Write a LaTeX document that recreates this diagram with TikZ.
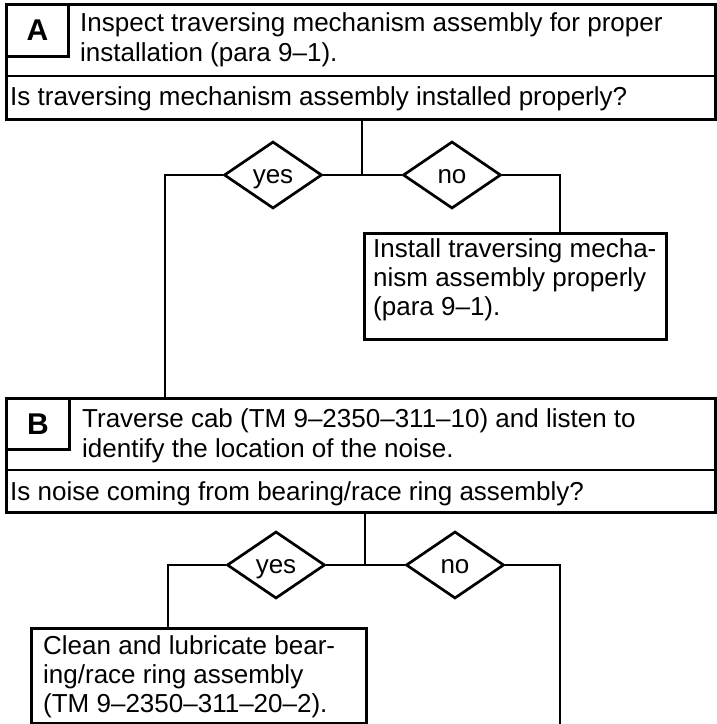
\documentclass[tikz,border=0pt]{standalone}
\usepackage{fontspec}
\setmainfont{Liberation Sans}
\usetikzlibrary{shapes.geometric}
\begin{document}
\begin{tikzpicture}[x=1pt,y=-1pt,
  frame/.style={draw, line width=2.7pt, rectangle, inner sep=0pt, anchor=north west},
  tx/.style={anchor=base west, inner sep=0pt, font=\fontsize{26}{30}\selectfont},
  letter/.style={anchor=center, inner sep=0pt, font=\fontsize{30}{30}\selectfont\bfseries},
  dia/.style={draw, diamond, line width=2.7pt, minimum width=98pt, minimum height=67pt, inner sep=0pt},
  lbl/.style={anchor=base, inner sep=0pt, yshift=-8pt, font=\fontsize{26}{30}\selectfont},
  wire/.style={line width=2.7pt}]
\useasboundingbox (0,0) rectangle (717,724);
% ---- Box A
\node[frame, minimum width=709pt, minimum height=115pt] (boxA) at (5,3) {};
\node[frame, minimum width=62pt, minimum height=52pt] (letA) at (5,3) {};
\node[letter] (la) at (letA.center) {A};
\coordinate (dAw) at (5,76);
\coordinate (dAe) at (714,76);
\draw[wire] (dAw) -- (dAe);
\node[tx] (a1) at (80,31) {Inspect traversing mechanism assembly for proper};
\node[tx] (a2) at (80,61) {installation (para 9–1).};
\node[tx] (aq) at (10,105) {Is traversing mechanism assembly installed properly?};
% ---- top branch
\coordinate (jA) at (362,175);
\node[dia] (yesA) at (273,175) {};
\node[lbl] (yesAl) at (yesA.center) {yes};
\node[dia] (noA) at (452,175) {};
\node[lbl] (noAl) at (noA.center) {no};
\coordinate (yA) at (165,175);
\coordinate (nA) at (560,175);
\draw[wire] (boxA.south -| jA) -- (jA);
\draw[wire] (yesA.east) -- (noA.west);
% ---- install box
\node[frame, minimum width=302pt, minimum height=106pt] (inst) at (363,232) {};
\node[tx] (i1) at (373,257) {Install traversing mecha-};
\node[tx] (i2) at (373,286) {nism assembly properly};
\node[tx] (i3) at (373,315) {(para 9–1).};
\draw[wire] (noA.east) -- (nA) -- (nA |- inst.north);
% ---- Box B
\node[frame, minimum width=709pt, minimum height=114pt] (boxB) at (5,397) {};
\node[frame, minimum width=63pt, minimum height=51pt] (letB) at (5,397) {};
\node[letter] (lb) at (letB.center) {B};
\coordinate (dBw) at (5,470);
\coordinate (dBe) at (714,470);
\draw[wire] (dBw) -- (dBe);
\node[tx] (b1) at (82,427) {Traverse cab (TM 9–2350–311–10) and listen to};
\node[tx] (b2) at (82,457) {identify the location of the noise.};
\node[tx] (bq) at (10,500) {Is noise coming from bearing/race ring assembly?};
\draw[wire] (yesA.west) -- (yA) -- (yA |- boxB.north);
% ---- bottom branch
\coordinate (jB) at (365,565);
\node[dia] (yesB) at (276,565) {};
\node[lbl] (yesBl) at (yesB.center) {yes};
\node[dia] (noB) at (455,565) {};
\node[lbl] (noBl) at (noB.center) {no};
\coordinate (yB) at (168,565);
\coordinate (nB) at (560,565);
\coordinate (nBend) at (560,724);
\draw[wire] (boxB.south -| jB) -- (jB);
\draw[wire] (yesB.east) -- (noB.west);
% ---- clean box
\node[frame, minimum width=335pt, minimum height=95pt] (clean) at (30,627) {};
\node[tx] (c1) at (43,654) {Clean and lubricate bear-};
\node[tx] (c2) at (43,683) {ing/race ring assembly};
\node[tx] (c3) at (43,712) {(TM 9–2350–311–20–2).};
\draw[wire] (yesB.west) -- (yB) -- (yB |- clean.north);
\draw[wire] (noB.east) -- (nB) -- (nBend);
\end{tikzpicture}
\end{document}
